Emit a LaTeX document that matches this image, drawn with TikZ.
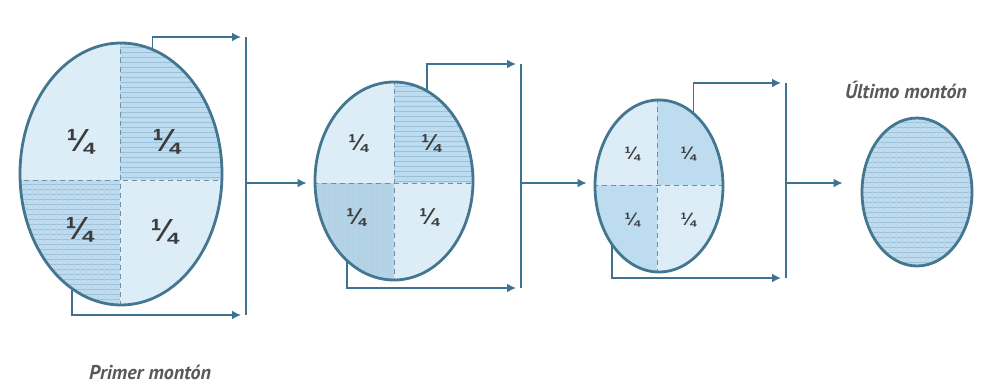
\documentclass[tikz,border=0pt]{standalone}
\usepackage{fontspec}
\setmainfont{PT Sans}
\newfontfamily\fracfont{Liberation Sans}
\usetikzlibrary{shapes.geometric,arrows.meta}
\definecolor{edgec}{HTML}{44778F}
\definecolor{lightc}{HTML}{DCEDF7}
\definecolor{midc}{HTML}{BEDCF0}
\definecolor{hatchc}{HTML}{9AC1DC}
\definecolor{connc}{HTML}{3F7191}
\definecolor{tipc}{HTML}{24526E}
\definecolor{txtc}{HTML}{3C3C3C}
\begin{document}
\begin{tikzpicture}[x=1pt,y=-1pt,
  heap/.style={ellipse, draw=edgec, line width=2.8pt, inner sep=0pt},
  divider/.style={draw=edgec!80, line width=0.9pt, dash pattern=on 5pt off 4pt},
  conn/.style={draw=connc, line width=1.7pt},
  arr/.style={conn, -{Latex[length=9pt,width=9pt]}, shorten >=0pt},
  hl/.style={draw=hatchc, line width=0.7pt},
  vl/.style={draw=hatchc!70, line width=0.4pt},
  qa/.style={font=\fracfont\bfseries\fontsize{32}{32}\selectfont, text=txtc},
  qb/.style={font=\fracfont\bfseries\fontsize{23}{23}\selectfont, text=txtc},
  qc/.style={font=\fracfont\bfseries\fontsize{18}{18}\selectfont, text=txtc},
  lbl/.style={font=\itshape\bfseries\fontsize{20}{20}\selectfont, text=txtc!85}
]
\useasboundingbox (0,0) rectangle (982,385);
\fill[white] (0,0) rectangle (982,385);

% ---------- heap 1 ----------
\begin{scope}
\clip (121,174) ellipse [x radius=101pt, y radius=131pt];
\fill[lightc] (0,0) rectangle (240,320);
\fill[midc] (120,0) rectangle (240,180);
\fill[midc] (0,180) rectangle (120,320);
\foreach \y in {47,52,...,180} \draw[hl] (120,\y) -- (230,\y);
\foreach \y in {184,189,...,310} \draw[hl] (10,\y) -- (120,\y);
\foreach \x in {26,32,...,120} \draw[vl] (\x,180) -- (\x,310);
\draw[divider] (120,40) -- (120,310);
\draw[divider] (15,180) -- (225,180);
\end{scope}
\node[heap, minimum width=202pt, minimum height=262pt] (e1) at (121,174) {};
\node[qa] (f1a) at (80,142) {¼};
\node[qa] (f1b) at (166,142) {¼};
\node[qa] (f1c) at (79,230) {¼};
\node[qa] (f1d) at (164,232) {¼};

% ---------- heap 2 ----------
\begin{scope}
\clip (394,181) ellipse [x radius=79pt, y radius=99pt];
\fill[lightc] (300,70) rectangle (480,290);
\fill[midc] (394,70) rectangle (480,183);
\fill[midc!90!edgec] (300,183) rectangle (394,290);
\foreach \y in {86,91,...,183} \draw[hl] (394,\y) -- (475,\y);
\foreach \x in {320,326,...,394} \draw[vl] (\x,183) -- (\x,285);
\draw[divider] (394,80) -- (394,282);
\draw[divider] (313,183) -- (475,183);
\end{scope}
\node[heap, minimum width=158pt, minimum height=198pt] (e2) at (394,181) {};
\node[qb] (f2a) at (358,144) {¼};
\node[qb] (f2b) at (431,144) {¼};
\node[qb] (f2c) at (356,218) {¼};
\node[qb] (f2d) at (429,218) {¼};

% ---------- heap 3 ----------
\begin{scope}
\clip (659,186) ellipse [x radius=64pt, y radius=86pt];
\fill[lightc] (590,95) rectangle (730,280);
\fill[midc] (657,95) rectangle (730,185);
\fill[midc] (590,185) rectangle (657,280);
\draw[divider] (657,98) -- (657,274);
\draw[divider] (593,185) -- (725,185);
\end{scope}
\node[heap, minimum width=128pt, minimum height=172pt] (e3) at (659,186) {};
\node[qc] (f3a) at (632,154) {¼};
\node[qc] (f3b) at (688,154) {¼};
\node[qc] (f3c) at (632,220) {¼};
\node[qc] (f3d) at (688,220) {¼};

% ---------- heap 4 ----------
\begin{scope}
\clip (917,192) ellipse [x radius=55pt, y radius=74pt];
\fill[midc] (860,115) rectangle (975,270);
\foreach \y in {122,127,...,266} \draw[hl] (860,\y) -- (975,\y);
\foreach \x in {866,872,...,972} \draw[vl] (\x,115) -- (\x,270);
\end{scope}
\node[heap, minimum width=110pt, minimum height=148pt] (e4) at (917,192) {};

% ---------- connectors ----------
\coordinate (t1) at (241,37);  \coordinate (b1) at (241,315);
\coordinate (v1a) at (246,37); \coordinate (v1b) at (246,315); \coordinate (m1) at (246,183);
\draw[arr] (e1.76) |- (t1);
\draw[arr] (e1.247) |- (b1);
\draw[conn] (v1a) -- (v1b);
\draw[arr] (m1) -- ([xshift=-7pt]m1 -| e2.west);

\coordinate (t2) at (516,64);  \coordinate (b2) at (516,288);
\coordinate (v2a) at (521,64); \coordinate (v2b) at (521,288); \coordinate (m2) at (521,183);
\draw[arr] (e2.70) |- (t2);
\draw[arr] (e2.240) |- (b2);
\draw[conn] (v2a) -- (v2b);
\draw[arr] (m2) -- ([xshift=-7pt]m2 -| e3.west);

\coordinate (t3) at (781,83);  \coordinate (b3) at (781,278);
\coordinate (v3a) at (786,83); \coordinate (v3b) at (786,278); \coordinate (m3) at (786,183);
\draw[arr] (e3.65) |- (t3);
\draw[arr] (e3.232) |- (b3);
\draw[conn] (v3a) -- (v3b);
\draw[arr] (m3) -- ([xshift=-18pt]m3 -| e4.west);

% ---------- labels ----------
\node[lbl] (l1) at (150,372) {Primer montón};
\node[lbl] (l2) at (906,90) {Último montón};
\end{tikzpicture}
\end{document}
